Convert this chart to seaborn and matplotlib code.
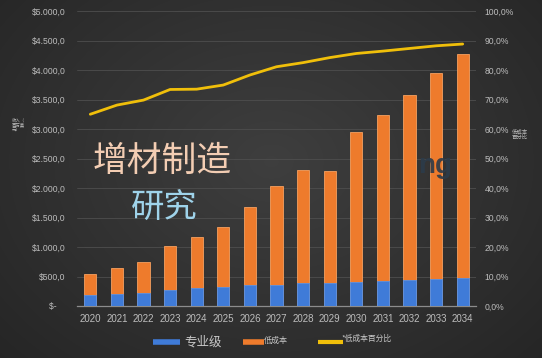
import numpy as np
import pandas as pd
import matplotlib
matplotlib.use("Agg")
import matplotlib.pyplot as plt
import seaborn as sns
from matplotlib.lines import Line2D
from matplotlib.ticker import FuncFormatter, MultipleLocator

# ---------------- data ----------------
years = [str(y) for y in range(2020, 2035)]
professional = [186, 203, 215, 271, 300, 328, 350, 356, 384, 395, 412, 424, 441, 452, 469]
total = [542, 650, 751, 1017, 1164, 1345, 1684, 2030, 2300, 2290, 2954, 3237, 3576, 3954, 4266]
low_cost_pct = [65.0, 68.1, 69.8, 73.4, 73.5, 74.9, 78.3, 81.1, 82.5, 84.2, 85.6, 86.4, 87.3, 88.2, 88.8]

df = pd.DataFrame({"year": years, "pro": professional, "total": total, "pct": low_cost_pct})

sns.set_theme(style="dark")
plt.rcParams["font.family"] = ["Liberation Sans", "Noto Sans CJK SC", "DejaVu Sans"]
CJK = ["Noto Sans CJK SC", "DejaVu Sans"]

BLUE = "#3f7bd8"
ORANGE = "#ee7b2c"
YELLOW = "#f0bf0a"
TICK = "#bdbdbd"

W, H = 542, 358
fig = plt.figure(figsize=(W / 100, H / 100), dpi=100)

# background radial gradient
bg = fig.add_axes([0, 0, 1, 1])
bg.set_zorder(-5)
yy, xx = np.mgrid[0:H, 0:W]
r = np.sqrt(((xx - W * 0.5) / (W * 0.6)) ** 2 + ((yy - H * 0.45) / (H * 0.7)) ** 2)
val = np.clip(0.245 - 0.085 * r, 0.14, 0.26)
bg.imshow(np.dstack([val, val, val]), aspect="auto", extent=[0, 1, 0, 1])
bg.axis("off")

ax = fig.add_axes([77 / W, (H - 306) / H, (476 - 77) / W, (306 - 11) / H])
ax.set_facecolor("none")

sns.barplot(data=df, x="year", y="total", color=ORANGE, width=0.46, ax=ax,
            saturation=1, edgecolor="#f5a060", linewidth=0.6, zorder=2)
sns.barplot(data=df, x="year", y="pro", color=BLUE, width=0.46, ax=ax,
            saturation=1, edgecolor="#5b90e0", linewidth=0.6, zorder=3)

ax.set_ylim(0, 5000)
ax.set_xlim(-0.5, len(years) - 0.5)
ax.yaxis.set_major_locator(MultipleLocator(500))


def money(v, pos):
    if v == 0:
        return "$-    "
    s = f"${v:,.1f}"
    return s.replace(",", "X").replace(".", ",").replace("X", ".")


ax.yaxis.set_major_formatter(FuncFormatter(money))
ax.yaxis.grid(True, color="#4e4e4e", lw=0.6)
ax.xaxis.grid(False)
ax.set_axisbelow(True)
for s in ["top", "left", "right"]:
    ax.spines[s].set_visible(False)
ax.spines["bottom"].set_color("#8c8c8c")
ax.spines["bottom"].set_linewidth(0.9)
ax.tick_params(axis="y", length=0, pad=8, labelsize=6.2, labelcolor=TICK)
ax.tick_params(axis="x", length=0, pad=6, labelsize=7, labelcolor=TICK)
ax.set_xlabel("")
ax.set_ylabel("")

ax2 = ax.twinx()
sns.pointplot(data=df, x="year", y="pct", ax=ax2, color=YELLOW, markers="",
              linewidth=2.0, errorbar=None)
ax2.set_ylim(0, 100)
ax2.set_xlim(-0.5, len(years) - 0.5)
ax2.yaxis.set_major_locator(MultipleLocator(10))
ax2.yaxis.set_major_formatter(FuncFormatter(lambda v, p: f"{v:.1f}%".replace(".", ",")))
ax2.tick_params(axis="y", length=0, pad=6, labelsize=6.2, labelcolor=TICK)
ax2.grid(False)
for s in ax2.spines.values():
    s.set_visible(False)
ax2.set_xlabel("")
ax2.set_ylabel("")

# axis titles
fig.text(12 / W, 1 - 125 / H, "收入（\n百万美\n元）", family=CJK, fontsize=3.2,
         color=TICK, ha="left", va="center", linespacing=1.1)
fig.text(512 / W, 1 - 135 / H, "低成本\n百分比", family=CJK, fontsize=3.9,
         color=TICK, ha="left", va="center", linespacing=1.1)

# watermark texts
fig.text(93 / W, 1 - 161 / H, "增材制造", family=CJK, fontsize=25, color="#f3cdb3",
         ha="left", va="center")
fig.text(131 / W, 1 - 207 / H, "研究", family=CJK, fontsize=24, color="#9fd3ea",
         ha="left", va="center")
fig.text(418 / W, 1 - 166 / H, "ng", family=["Liberation Sans"], fontsize=20,
         fontweight="bold", color="#2c3b4a", alpha=0.9, ha="left", va="center")

# legend
ly = 1 - 342 / H
fig.add_artist(Line2D([153 / W, 180 / W], [ly, ly], color=BLUE, lw=4,
                      transform=fig.transFigure, solid_capstyle="butt"))
fig.text(184 / W, ly, "专业级", family=CJK, fontsize=9, color="#c8c8c8",
         ha="left", va="center")
fig.add_artist(Line2D([243 / W, 264 / W], [ly, ly], color=ORANGE, lw=4,
                      transform=fig.transFigure, solid_capstyle="butt"))
fig.text(264 / W, 1 - 340 / H, "低成本", family=CJK, fontsize=5.8, color="#c8c8c8",
         ha="left", va="center")
fig.add_artist(Line2D([318 / W, 343 / W], [ly, ly], color=YELLOW, lw=3,
                      transform=fig.transFigure, solid_capstyle="butt"))
fig.text(341 / W, 1 - 339 / H, "*低成本百分比", family=CJK, fontsize=5.6,
         color="#c8c8c8", ha="left", va="center")

fig.savefig("out.png", dpi=100)
